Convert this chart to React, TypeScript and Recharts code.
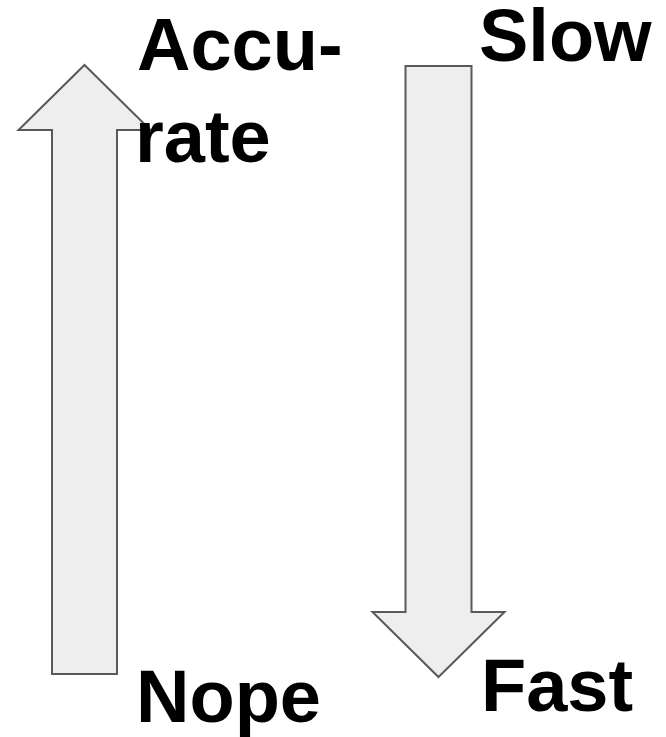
import React from 'react';
import { ComposedChart, XAxis, YAxis, ReferenceArea, Scatter } from 'recharts';

// Arrows (in page pixel units of the diagram)
const arrowNames = ['accuracy', 'speed'];
const arrowCenterX = [84.5, 438.5];
const arrowTailY = [674, 66];
const arrowTipY = [65, 677];
const shaftWidths = [65, 66];
const headWidths = [132, 132];
const headLengths = [65, 65];

// Labels
const labelTexts = ['Accu-', 'rate', 'Slow', 'Nope', 'Fast'];
const labelX = [137, 135, 479, 136, 481];
const labelY = [70, 162, 61, 722, 711];

const W = 666;
const H = 737;

const labelData = labelTexts.map((t, i) => ({ text: t, x: labelX[i], y: labelY[i] }));

const makeArrowShape = (i: number) => (props: any) => {
  const { x, y, width, height } = props;
  const headW = headWidths[i];
  const total = Math.abs(arrowTipY[i] - arrowTailY[i]);
  const sx = width / headW;
  const sy = height / total;
  const cx = x + width / 2;
  const hs = (shaftWidths[i] / 2) * sx;
  const hh = (headWidths[i] / 2) * sx;
  const hl = headLengths[i] * sy;
  const up = arrowTipY[i] < arrowTailY[i];
  let pts: number[][];
  if (up) {
    const tip = y;
    const base = y + hl;
    const tail = y + height;
    pts = [
      [cx, tip],
      [cx + hh, base],
      [cx + hs, base],
      [cx + hs, tail],
      [cx - hs, tail],
      [cx - hs, base],
      [cx - hh, base],
    ];
  } else {
    const tip = y + height;
    const base = tip - hl;
    const tail = y;
    pts = [
      [cx, tip],
      [cx + hh, base],
      [cx + hs, base],
      [cx + hs, tail],
      [cx - hs, tail],
      [cx - hs, base],
      [cx - hh, base],
    ];
  }
  return (
    <polygon
      points={pts.map((p) => p.join(',')).join(' ')}
      fill="#eeeeee"
      stroke="#595959"
      strokeWidth={2}
      strokeLinejoin="miter"
    />
  );
};

const LabelShape = (props: any) => {
  const { cx, cy, payload } = props;
  return (
    <text
      x={cx}
      y={cy}
      fontFamily="'Liberation Sans', Arial, sans-serif"
      fontWeight="bold"
      fontSize={74}
      fill="#000000"
      textAnchor="start"
    >
      {payload.text}
    </text>
  );
};

export default function App() {
  return (
    <div style={{ position: 'absolute', left: 0, top: 0, width: W, height: H, background: '#ffffff' }}>
      <ComposedChart width={W} height={H} margin={{ top: 0, right: 0, bottom: 0, left: 0 }} data={labelData}>
        <XAxis type="number" dataKey="x" domain={[0, W]} hide allowDataOverflow />
        <YAxis type="number" dataKey="y" domain={[0, H]} reversed hide allowDataOverflow />
        {arrowNames.map((name, i) => (
          <ReferenceArea
            key={name}
            x1={arrowCenterX[i] - headWidths[i] / 2}
            x2={arrowCenterX[i] + headWidths[i] / 2}
            y1={Math.min(arrowTipY[i], arrowTailY[i])}
            y2={Math.max(arrowTipY[i], arrowTailY[i])}
            ifOverflow="visible"
            shape={makeArrowShape(i)}
          />
        ))}
        <Scatter data={labelData} dataKey="y" isAnimationActive={false} shape={LabelShape} />
      </ComposedChart>
    </div>
  );
}
